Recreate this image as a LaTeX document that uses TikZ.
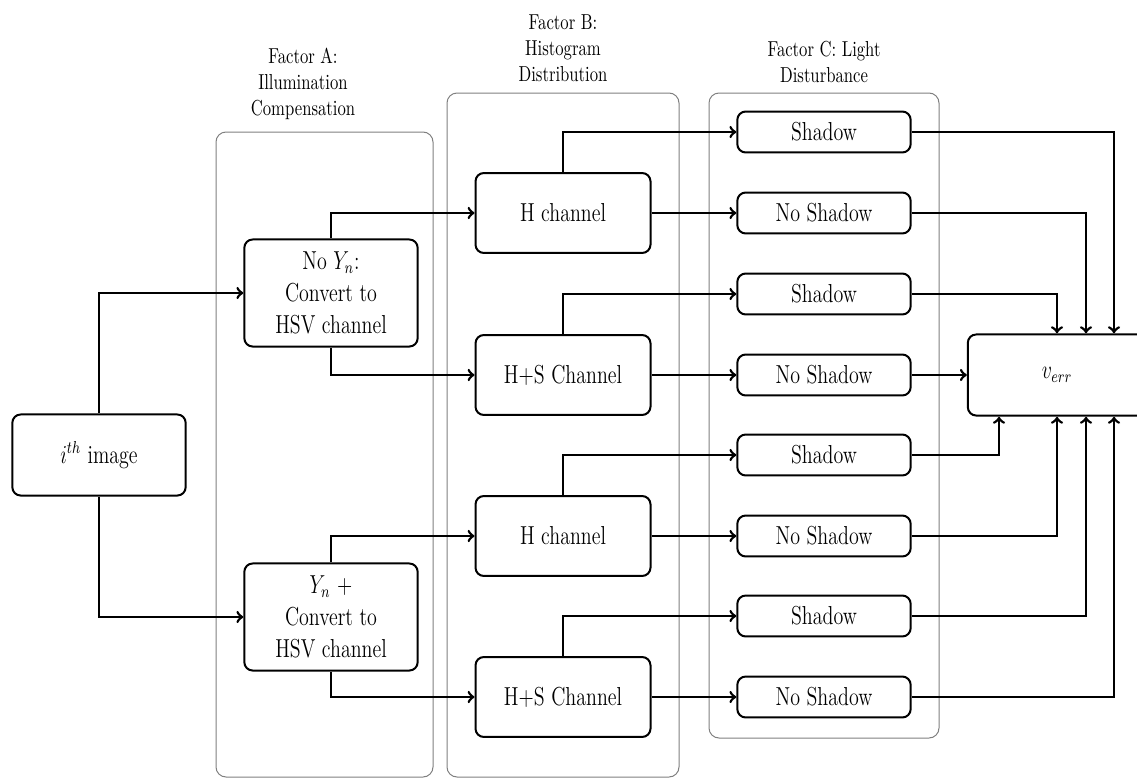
\documentclass[tikz,border=0pt]{standalone}
\usepackage{amsmath}
\tikzstyle{tall}=[transform shape,yscale=1.3]
\tikzstyle{block}=[draw,line width=1.2pt,rounded corners=5pt,align=center,inner sep=0pt,tall,font=\fontsize{12}{14.8}\selectfont]
\tikzstyle{imgbox}=[block,minimum width=104pt,minimum height=37.4pt]
\tikzstyle{factorbox}=[block,minimum width=104pt,minimum height=49.4pt]
\tikzstyle{chanbox}=[block,minimum width=105pt,minimum height=36.9pt]
\tikzstyle{lightbox}=[block,minimum width=104pt,minimum height=18.9pt]
\tikzstyle{errbox}=[block,minimum width=107pt,minimum height=37.4pt]
\tikzstyle{conn}=[->,line width=1.6pt]
\tikzstyle{frame}=[gray,line width=0.6pt,rounded corners=6pt]
\tikzstyle{factorlabel}=[align=center,tall,font=\fontsize{10}{12}\selectfont]
\newcommand{\lightpair}[3]{% #1 channel node, #2 row of the shadow box, #3 suffix
	\node[lightbox] (s#3) at (824,#2) {Shadow};
	\node[lightbox] (n#3) at (824,#2+81) {No Shadow};
	\draw[conn] (#1.north) |- (s#3.west);
	\draw[conn] (#1.east) -- (n#3.west);
}

\begin{document}
\begin{tikzpicture}[x=0.6pt,y=-0.6pt]
	\useasboundingbox (0,0) rectangle (1137,779);
	\clip (0,0) rectangle (1137,779);
	% factor frames
	\draw[frame] (216,132) rectangle (433,777);
	\draw[frame] (447,93) rectangle (679,777);
	\draw[frame] (709,93) rectangle (939,738);
	\node[factorlabel] (labA) at (303,84) {Factor A:\\Illumination\\Compensation};
	\node[factorlabel] (labB) at (563,48) {Factor B:\\Histogram\\Distribution};
	\node[factorlabel] (labC) at (824,62) {Factor C: Light\\Disturbance};
	% input
	\node[imgbox] (img) at (99,455) {$i^{th}$ image};
	\node[factorbox] (noY) at (331,293) {No $Y_n$:\\Convert to\\HSV channel};
	\node[factorbox] (withY) at (331,617) {$Y_n$ +\\Convert to\\HSV channel};
	\draw[conn] (img.north) |- (noY.west);
	\draw[conn] (img.south) |- (withY.west);
	% histogram channels
	\node[chanbox] (h1) at (563,213) {H channel};
	\node[chanbox] (hs1) at (563,375) {H+S Channel};
	\node[chanbox] (h2) at (563,536) {H channel};
	\node[chanbox] (hs2) at (563,697) {H+S Channel};
	\draw[conn] (noY.north) |- (h1.west);
	\draw[conn] (noY.south) |- (hs1.west);
	\draw[conn] (withY.north) |- (h2.west);
	\draw[conn] (withY.south) |- (hs2.west);
	% light disturbance
	\lightpair{h1}{132}{1}
	\lightpair{hs1}{294}{2}
	\lightpair{h2}{455}{3}
	\lightpair{hs2}{616}{4}
	\node[errbox] (verr) at (1057,375) {$v_{err}$};
	\draw[conn] (s1.east) -| ([xshift=34.2pt]verr.north);
	\draw[conn] (n1.east) -| ([xshift=17.4pt]verr.north);
	\draw[conn] (s2.east) -| (verr.north);
	\draw[conn] (n2.east) -- (verr.west);
	\draw[conn] (s3.east) -| ([xshift=-34.8pt]verr.south);
	\draw[conn] (n3.east) -| (verr.south);
	\draw[conn] (s4.east) -| ([xshift=17.4pt]verr.south);
	\draw[conn] (n4.east) -| ([xshift=34.2pt]verr.south);
\end{tikzpicture}
\end{document}
